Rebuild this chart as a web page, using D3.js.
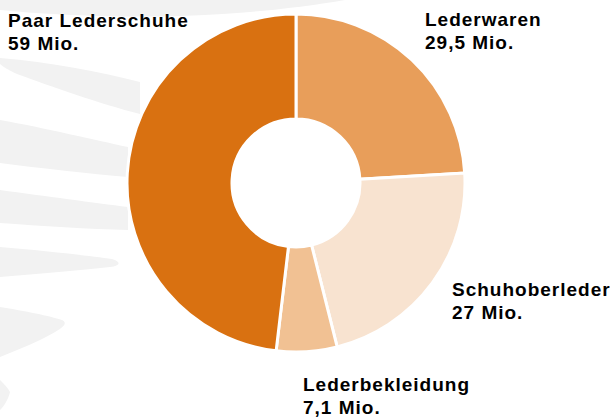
<!DOCTYPE html>
<html>
<head>
<meta charset="utf-8">
<script src="https://cdn.jsdelivr.net/npm/d3@7"></script>
<style>
  html, body { margin: 0; padding: 0; background: #ffffff; }
  svg { display: block; }
  text { font-family: "Liberation Sans", Arial, sans-serif; font-weight: bold; fill: #000; }
</style>
</head>
<body>
<svg id="chart" width="616" height="417"></svg>
<script>
// ---- data ----
const categories = ["Lederwaren", "Schuhoberleder", "Lederbekleidung", "Paar Lederschuhe"];
const values = [29.5, 27, 7.1, 59];
const valueLabels = ["29,5 Mio.", "27 Mio.", "7,1 Mio.", "59 Mio."];
const colors = ["#E89E5A", "#F8E3D0", "#F1C193", "#D97111"];

// ---- layout ----
const W = 616, H = 417;
const cx = 296, cy = 183, rOuter = 169, rInner = 64;
const labelAnchors = {
  "Lederwaren": [425, 26],
  "Schuhoberleder": [452, 296],
  "Lederbekleidung": [303, 391],
  "Paar Lederschuhe": [8, 27]
};

const svg = d3.select("#chart");

// faint background watermark (decorative)
const wm = svg.append("g").attr("fill", "#f2f2f2");
const bands = [
  "M0,0 L345,0 C300,8 240,14 180,16 C110,18 40,14 0,10 Z",
  "M0,58 C50,62 100,72 140,82 L140,114 C100,104 50,86 17,74 C8,70 2,66 0,64 Z",
  "M0,120 C45,128 95,140 128,147 L128,177 C90,174 40,168 0,163 Z",
  "M0,190 C45,196 95,203 128,207 L128,230 C90,229 40,226 0,223 Z",
  "M0,247 C40,250 90,256 112,259 C122,262 120,266 110,267 C80,270 40,274 0,277 Z",
  "M0,307 C25,311 50,316 62,320 C70,324 60,330 40,340 C25,347 12,352 0,357 Z",
  "M0,380 C4,384 8,388 10,392 C8,400 4,406 0,410 Z"
];
wm.selectAll("path").data(bands).join("path").attr("d", d => d);

// donut
const pie = d3.pie().sort(null).value(d => d.value);
const arcs = pie(categories.map((c, i) => ({ name: c, value: values[i], color: colors[i], label: valueLabels[i] })));
const arc = d3.arc().innerRadius(rInner).outerRadius(rOuter);

const g = svg.append("g").attr("transform", `translate(${cx},${cy})`);
g.selectAll("path.slice")
  .data(arcs)
  .join("path")
  .attr("class", "slice")
  .attr("d", arc)
  .attr("fill", d => d.data.color)
  .attr("stroke", "#ffffff")
  .attr("stroke-width", 3)
  .attr("stroke-linejoin", "miter");

// labels
const lab = svg.append("g");
arcs.forEach(d => {
  const [x, y] = labelAnchors[d.data.name];
  const t = lab.append("text")
    .attr("x", x).attr("y", y)
    .attr("font-size", 19)
    .attr("letter-spacing", 1);
  t.append("tspan").attr("x", x).attr("y", y).text(d.data.name);
  t.append("tspan").attr("x", x).attr("y", y + 23).text(d.data.label);
});
</script>
</body>
</html>
